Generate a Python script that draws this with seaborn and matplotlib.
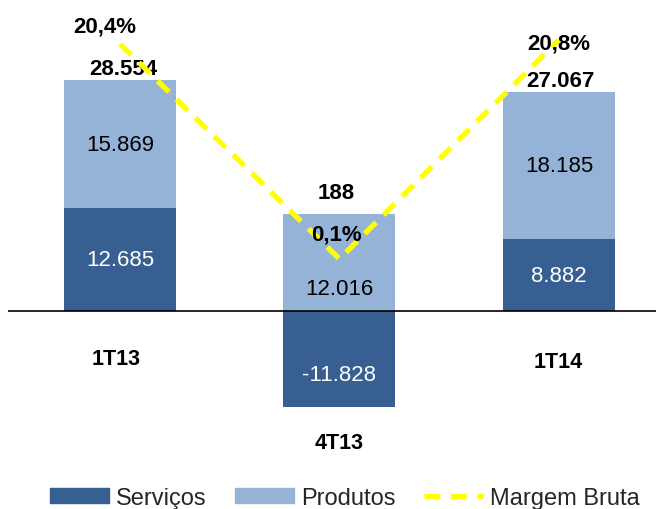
import numpy as np
import seaborn as sns
import matplotlib.pyplot as plt
from matplotlib.patches import Patch
from matplotlib.lines import Line2D

# dados
trimestres = ['1T13', '4T13', '1T14']
servicos = [12685, -11828, 8882]
produtos = [15869, 12016, 18185]
totais = [28554, 188, 27067]
margem_bruta = [20.4, 0.1, 20.8]

cor_serv = '#375F91'
cor_prod = '#95B3D7'
cor_margem = '#FFFF00'

sns.set_style('white')
plt.rcParams['font.family'] = ['Liberation Sans', 'DejaVu Sans']

def fmt(v):
    return f'{v:,}'.replace(',', '.')

def fmt_pct(v):
    return f'{v:.1f}'.replace('.', ',') + '%'

fig = plt.figure(figsize=(6.56, 5.10), dpi=100)
ax = fig.add_axes([8 / 656, 50 / 510, 648 / 656, 440 / 510])

pos = np.arange(len(trimestres))
base_prod = [max(s, 0) for s in servicos]

sns.barplot(x=trimestres, y=servicos, color=cor_serv, saturation=1, width=0.51,
            linewidth=0, ax=ax)
sns.barplot(x=trimestres, y=produtos, bottom=base_prod, color=cor_prod, saturation=1,
            width=0.51, linewidth=0, ax=ax)

ax.axhline(0, color='black', lw=1.2, zorder=5)
ax.set_xlim(-0.51, 2.442)
ax.set_ylim(-18294, 36094)
ax.set_xticks([])
ax.set_yticks([])
ax.set_xlabel('')
ax.set_ylabel('')
sns.despine(ax=ax, left=True, bottom=True)

# rótulos internos (deslocamentos em pixels)
off_serv = [0, -16, 0]
off_prod = [0, -26, 0]
for i in range(len(trimestres)):
    s = servicos[i]
    ax.annotate(fmt(s), (pos[i], s / 2), xytext=(0, off_serv[i]), textcoords='offset pixels',
                ha='center', va='center', fontsize=16, color='white')
    p_mid = base_prod[i] + produtos[i] / 2
    ax.annotate(fmt(produtos[i]), (pos[i], p_mid), xytext=(0, off_prod[i]),
                textcoords='offset pixels', ha='center', va='center', fontsize=16, color='black')

# totais
off_tot = [(3, 11), (-3, 21), (1, 12)]
for i in range(len(trimestres)):
    topo = base_prod[i] + produtos[i]
    ax.annotate(fmt(totais[i]), (pos[i], topo), xytext=off_tot[i], textcoords='offset pixels',
                ha='center', va='center', fontsize=16, fontweight='bold', color='black')

# rótulos das categorias
off_cat = [(-4, -47), (0, -36), (-1, -50)]
for i in range(len(trimestres)):
    fundo = min(servicos[i], 0)
    ax.annotate(trimestres[i], (pos[i], fundo), xytext=off_cat[i], textcoords='offset pixels',
                ha='center', va='center', fontsize=15.5, fontweight='bold', color='black')

# margem bruta
ax2 = ax.twinx()
sns.lineplot(x=pos, y=margem_bruta, color=cor_margem, lw=3.8, linestyle=(0, (3, 2)), ax=ax2)
ax2.set_ylim(-18.79, 22.76)
ax2.set_xlim(-0.51, 2.442)
ax2.set_yticks([])
ax2.set_ylabel('')
sns.despine(ax=ax2, left=True, bottom=True, right=True)

off_pct = [(-15, 18), (-3, 25), (0, -3)]
for i in range(len(trimestres)):
    ax2.annotate(fmt_pct(margem_bruta[i]), (pos[i], margem_bruta[i]), xytext=off_pct[i],
                 textcoords='offset pixels', ha='center', va='center', fontsize=16,
                 fontweight='bold', color='black')

handles = [Patch(color=cor_serv, label='Serviços'),
           Patch(color=cor_prod, label='Produtos'),
           Line2D([], [], color=cor_margem, lw=3.8, linestyle=(0, (3, 2)), label='Margem Bruta')]
fig.legend(handles=handles, loc='center', bbox_to_anchor=(0.526, 0.022), ncol=3, frameon=False,
           fontsize=17, handlelength=2.5, handleheight=0.55, handletextpad=0.3,
           columnspacing=1.2, borderpad=0)

fig.savefig('out.png', dpi=100)
